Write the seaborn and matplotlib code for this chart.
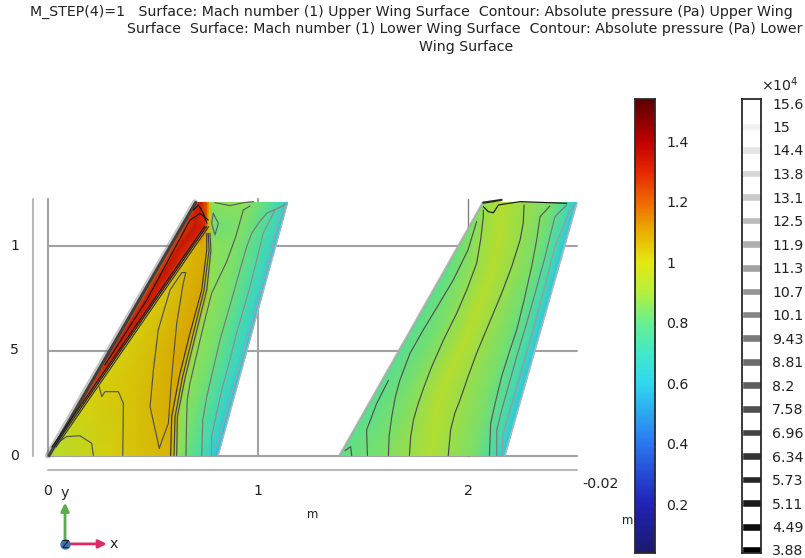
import numpy as np
import matplotlib
matplotlib.use('Agg')
import matplotlib.pyplot as plt
from matplotlib.colors import LinearSegmentedColormap, Normalize, to_rgb
import seaborn as sns

# Mach number colour bar
mach_min = 0.038
mach_max = 1.539
mach_ticks = [1.4, 1.2, 1.0, 0.8, 0.6, 0.4, 0.2]
mach_tick_labels = ['1.4', '1.2', '1', '0.8', '0.6', '0.4', '0.2']
mach_stops = [0.038, 0.2, 0.4, 0.6, 0.7, 0.8, 0.9, 1.0, 1.1, 1.2, 1.3, 1.4, 1.539]
mach_colors = ['#1a1a6e', '#2222b8', '#2a78f0', '#30d8f0', '#44e8c8', '#66f090', '#b4f040',
               '#e4e810', '#eab000', '#ee6a00', '#e62800', '#c00000', '#5c0000']

# pressure legend, in units of 10^4 Pa
pressure_levels = [15.6, 14.98, 14.37, 13.75, 13.13, 12.52, 11.9, 11.28, 10.66, 10.05, 9.43, 8.81, 8.2,
                   7.58, 6.96, 6.34, 5.73, 5.11, 4.49, 3.88]
pressure_labels = ['15.6', '15', '14.4', '13.8', '13.1', '12.5', '11.9', '11.3', '10.7', '10.1',
                   '9.43', '8.81', '8.2', '7.58', '6.96', '6.34', '5.73', '5.11', '4.49', '3.88']

# upper wing surface: span stations, x of each chord station, Mach there
upper_span = [0, 0.25, 0.5, 0.75, 1.0, 1.09, 1.205]
upper_x = [
    [0.0, 0.002, 0.004, 0.006, 0.30, 0.585, 0.62, 0.68, 0.74, 0.78, 0.81],
    [0.146, 0.155, 0.168, 0.178, 0.40, 0.600, 0.640, 0.72, 0.79, 0.85, 0.879],
    [0.292, 0.310, 0.342, 0.352, 0.50, 0.655, 0.700, 0.79, 0.86, 0.92, 0.9475],
    [0.4375, 0.47, 0.515, 0.525, 0.62, 0.725, 0.770, 0.86, 0.93, 0.99, 1.016],
    [0.583, 0.63, 0.688, 0.698, 0.725, 0.750, 0.785, 0.90, 1.0, 1.06, 1.085],
    [0.636, 0.70, 0.750, 0.758, 0.762, 0.766, 0.79, 0.93, 1.03, 1.09, 1.11],
    [0.70, 0.73, 0.755, 0.76, 0.765, 0.77, 0.78, 0.94, 1.05, 1.12, 1.14],
]
upper_mach = [
    [0.92, 0.93, 0.93, 0.93, 1.02, 1.07, 0.87, 0.80, 0.72, 0.65, 0.58],
    [1.15, 1.25, 1.22, 1.01, 1.04, 1.09, 0.87, 0.82, 0.74, 0.66, 0.58],
    [1.2, 1.32, 1.30, 1.02, 1.05, 1.10, 0.87, 0.83, 0.75, 0.68, 0.58],
    [1.2, 1.34, 1.30, 1.03, 1.06, 1.10, 0.87, 0.83, 0.75, 0.68, 0.58],
    [1.22, 1.34, 1.28, 1.06, 1.08, 1.08, 0.86, 0.84, 0.76, 0.68, 0.58],
    [1.25, 1.34, 1.30, 1.18, 1.15, 1.05, 0.82, 0.84, 0.76, 0.68, 0.58],
    [1.3, 1.32, 1.2, 1.15, 1.12, 1.05, 0.86, 0.86, 0.78, 0.68, 0.58],
]

# lower wing surface
lower_span = [0, 0.3, 0.6, 0.9, 1.205]
lower_x = [
    [1.39, 1.60, 1.82, 2.02, 2.13, 2.176],
    [1.561, 1.72, 1.87, 2.09, 2.21, 2.2615],
    [1.731, 1.87, 2.01, 2.20, 2.30, 2.347],
    [1.902, 2.01, 2.12, 2.31, 2.39, 2.4325],
    [2.073, 2.12, 2.168, 2.40, 2.48, 2.518],
]
lower_mach = [
    [0.80, 0.84, 0.92, 0.84, 0.72, 0.60],
    [0.78, 0.84, 0.93, 0.84, 0.72, 0.60],
    [0.78, 0.84, 0.93, 0.83, 0.72, 0.60],
    [0.80, 0.86, 0.93, 0.83, 0.72, 0.60],
    [0.86, 0.90, 0.93, 0.83, 0.72, 0.60],
]

# pressure contours on the upper surface (x, y in m)
shock_a = [(.584, 0), (.589, .185), (.625, .375), (.676, .582), (.732, .788), (.756, .979), (.756, 1.058)]
shock_b = [(.600, 0), (.605, .185), (.641, .375), (.692, .582), (.743, .788), (.767, .979), (.763, 1.058)]
shock_c = [(.613, 0), (.616, .185), (.654, .375), (.705, .582), (.756, .788), (.776, .979), (.771, 1.058)]
aft_d = [(.657, 0), (.660, .169), (.663, .264), (.676, .344), (.724, .550), (.751, .661), (.779, .772), (.851, .923),
         (.894, 1.042), (.930, 1.169), (.962, 1.188)]
aft_e = [(.732, 0), (.737, .169), (.756, .280), (.819, .550), (.851, .661), (.883, .772), (.914, .883), (.946, .994),
         (.970, 1.058), (1.002, 1.106), (1.041, 1.153), (1.137, 1.198)]
aft_f = [(.779, 0), (.779, .090), (.827, .312), (.862, .439), (.898, .582), (.930, .693), (.962, .804), (.994, .931),
         (1.025, 1.058), (1.081, 1.169), (1.137, 1.198)]
aft_g = [(.803, .042), (.851, .209), (.898, .375), (.954, .574), (1.010, .772), (1.057, .947), (1.097, 1.121), (1.137, 1.198)]
yellow_loop = [(.530, .034), (.486, .233), (.502, .407), (.525, .598), (.581, .788), (.637, .871), (.656, .871),
               (.644, .820), (.613, .629), (.589, .375), (.573, .153), (.541, .066), (.530, .034)]
root_one = [(.244, .328), (.256, .280), (.271, .304), (.335, .304), (.359, .248), (.356, 0)]
root_two = [(.041, .058), (.089, .090), (.152, .094), (.208, .058), (.216, 0)]
red_band = [(.271, .431), (.470, .740), (.676, 1.121), (.724, 1.153), (.763, 1.121)]
edge_a = [(.018, .04), (.399, .59), (.745, 1.09)]
edge_b = [(.028, .04), (.409, .59), (.755, 1.09)]
edge_c = [(.038, .04), (.419, .59), (.765, 1.09)]
tip_upper = [(.795, 1.204), (.867, 1.190), (.930, 1.204), (.978, 1.209)]
tip_ellipse = [(.787, 1.153), (.811, 1.106), (.795, 1.050), (.779, 1.106), (.787, 1.153)]
tip_loop = [(.692, 1.169), (.716, 1.193), (.740, 1.153), (.756, 1.106)]

# pressure contours on the lower surface
low_spike = [(1.521, 0), (1.517, .121), (1.565, .247), (1.621, .358)]
low_root = [(1.446, 0), (1.441, .042), (1.414, .023)]
low_b = [(1.621, 0), (1.624, .090), (1.637, .185), (1.654, .280), (1.676, .360), (1.724, .487), (1.787, .598),
         (1.859, .717), (1.930, .836), (2.0, .979), (2.041, 1.114)]
low_c = [(1.721, 0), (1.727, .090), (1.740, .169), (1.763, .248), (1.791, .328), (1.827, .423), (1.883, .550),
         (1.946, .677), (1.994, .788), (2.041, .915), (2.060, 1.026), (2.073, 1.137), (2.073, 1.169)]
low_d = [(1.906, 0), (1.917, .121), (1.937, .201), (1.962, .264), (2.0, .375), (2.041, .487), (2.097, .621),
         (2.160, .772), (2.208, .899), (2.248, 1.026), (2.263, 1.106), (2.267, 1.193)]
low_e = [(2.102, 0), (2.108, .153), (2.129, .247), (2.160, .375), (2.195, .487), (2.232, .598), (2.267, .740),
         (2.303, .899), (2.327, 1.026), (2.343, 1.137), (2.390, 1.188)]
low_f = [(2.137, 0), (2.137, .121), (2.160, .215), (2.192, .328), (2.232, .471), (2.279, .629), (2.324, .788),
         (2.367, .947), (2.394, 1.058), (2.414, 1.137), (2.470, 1.193)]
low_g = [(2.160, 0), (2.168, .106), (2.198, .209), (2.232, .328), (2.281, .494), (2.327, .661), (2.374, .836),
         (2.414, .994), (2.451, 1.082), (2.478, 1.153), (2.510, 1.198)]
low_tip = [(2.073, 1.185), (2.097, 1.161), (2.121, 1.156), (2.145, 1.193), (2.248, 1.209), (2.470, 1.201)]

# (pressure level, contour) pairs: the level sets the line's grey
contours = [
    (6.4, shock_a), (6.8, shock_b), (7.2, shock_c), (8.2, aft_d), (9.5, aft_e), (10.4, aft_f), (11.4, aft_g),
    (7.6, yellow_loop), (7.8, root_one), (7.8, root_two), (5.0, red_band), (5.2, edge_a), (5.6, edge_b), (6.4, edge_c),
    (8.2, tip_upper), (8.4, tip_ellipse), (4.4, tip_loop),
    (7.6, low_spike), (7.6, low_root), (7.6, low_b), (7.4, low_c), (7.2, low_d), (8.0, low_e), (9.4, low_f), (11.0, low_g),
    (5.0, low_tip),
]

title_lines = ['M_STEP(4)=1   Surface: Mach number (1) Upper Wing Surface  Contour: Absolute pressure (Pa) Upper Wing',
               'Surface  Surface: Mach number (1) Lower Wing Surface  Contour: Absolute pressure (Pa) Lower',
               'Wing Surface']

sns.set_theme(style='white')
plt.rcParams['font.family'] = ['DejaVu Sans']
text_color = '#222222'
text_size = 10.2

fig = plt.figure(figsize=(8.05, 5.58), dpi=100)
ax = fig.add_axes([0, 0, 1, 1])
ax.set_xlim(-48 / 210, 757 / 210)
ax.set_ylim(-102.5 / 210, 455.5 / 210)
ax.set_axis_off()

stops = [(v - mach_min) / (mach_max - mach_min) for v in mach_stops]
mach_cmap = LinearSegmentedColormap.from_list('mach', list(zip(stops, mach_colors)), N=512)
# the wing surfaces are lit, so they come out a bit duller than the colour bar
wing_colors = [tuple(c * 0.93 for c in to_rgb(col)) for col in mach_colors]
wing_cmap = LinearSegmentedColormap.from_list('wing', list(zip(stops, wing_colors)), N=512)
mach_norm = Normalize(mach_min, mach_max)
gray_norm = Normalize(3.88, 15.6)

# axis box behind the wings
grid_color = '#a2a2a2'
for y in [0, 0.5, 1]:
    ax.plot([0, 2.52], [y, y], color=grid_color, lw=1.5, zorder=1)
for x in [0, 1]:
    ax.plot([x, x], [0, 1.22], color=grid_color, lw=1.5, zorder=1)
ax.plot([2, 2], [0, 1.22], color='#808080', lw=1, zorder=1)
ax.plot([0, 2.52], [-0.07, -0.07], color='#b8b8b8', lw=1.5, zorder=1)
ax.plot([-0.07, -0.07], [0, 1.22], color='#b8b8b8', lw=1.5, zorder=1)

# wing surfaces
for span, xs, mach in [(upper_span, upper_x, upper_mach), (lower_span, lower_x, lower_mach)]:
    xs = np.array(xs)
    ys = np.tile(np.array(span)[:, None], (1, xs.shape[1]))
    ax.pcolormesh(xs, ys, np.array(mach), shading='gouraud', cmap=wing_cmap, norm=mach_norm, zorder=2)

# dark leading and trailing edges where the contours crowd together
sns.lineplot(x=[0.0, 0.70], y=[0.0, 1.205], color='#707070', lw=4.5, alpha=0.4, ax=ax, zorder=3)
sns.lineplot(x=[0.005, 0.703], y=[0.0, 1.205], color='#3a3a3a', lw=2.2, alpha=0.9, ax=ax, zorder=3)
sns.lineplot(x=[1.388, 2.071], y=[0.0, 1.205], color='#a8a8a8', lw=1.6, alpha=0.8, ax=ax, zorder=3)
sns.lineplot(x=[0.81, 1.14], y=[0.0, 1.2], color='#a8b8c0', lw=1.0, ax=ax, zorder=3)
sns.lineplot(x=[2.176, 2.518], y=[0.0, 1.2], color='#a8b8c0', lw=1.2, ax=ax, zorder=3)
sns.lineplot(x=[2.073, 2.160], y=[1.204, 1.217], color='#2a2a2a', lw=1.6, ax=ax, zorder=4)

for level, line in contours:
    pts = np.array(line)
    sns.lineplot(x=pts[:, 0], y=pts[:, 1], sort=False, estimator=None, ax=ax, lw=0.85,
                 color=plt.cm.gray(gray_norm(level)), zorder=4)

# tick labels of the 3D box
for x, label in zip([-0.003, 1, 2], ['0', '1', '2']):
    ax.text(x, -0.17, label, ha='center', va='center', fontsize=text_size, color=text_color)
for y, label in zip([0, 0.5, 1], ['0', '5', '1']):
    ax.text(-0.16, y, label, ha='center', va='center', fontsize=text_size, color=text_color)
ax.text(2.63, -0.137, '-0.02', ha='center', va='center', fontsize=text_size, color=text_color)
ax.text(1.26, -0.28, 'm', ha='center', va='center', fontsize=8.4, color=text_color)
ax.text(2.76, -0.31, 'm', ha='center', va='center', fontsize=8.4, color=text_color)

# coordinate triad
origin = (0.081, -0.421)
ax.annotate('', xy=(0.081, -0.225), xytext=origin, zorder=5,
            arrowprops=dict(arrowstyle='-|>', color='#5cab4e', lw=2, mutation_scale=12, shrinkA=0, shrinkB=0))
ax.annotate('', xy=(0.28, -0.421), xytext=origin, zorder=5,
            arrowprops=dict(arrowstyle='-|>', color='#dc2a64', lw=2, mutation_scale=12, shrinkA=0, shrinkB=0))
ax.scatter([origin[0]], [origin[1]], s=42, color='#3b75b8', zorder=6)
ax.text(0.081, -0.421, 'z', ha='center', va='center', fontsize=text_size, color=text_color, zorder=7)
ax.text(0.081, -0.18, 'y', ha='center', va='center', fontsize=text_size, color=text_color)
ax.text(0.315, -0.421, 'x', ha='center', va='center', fontsize=text_size, color=text_color)

# the wrapped title lines are not centred on one axis in the original
for line, cx, cy in zip(title_lines, [411, 465, 466], [11.5, 29.5, 47.5]):
    fig.text(cx / 805, 1 - cy / 558, line, ha='center', va='center', fontsize=text_size, color=text_color)

# Mach colour bar
cax = fig.add_axes([635 / 805, 5 / 558, 20 / 805, 454 / 558])
gradient = np.linspace(mach_max, mach_min, 256)[:, None]
sns.heatmap(gradient, cmap=mach_cmap, norm=mach_norm, cbar=False, xticklabels=False, ax=cax)
cax.set_yticks([(mach_max - v) / (mach_max - mach_min) * 256 for v in mach_ticks])
cax.set_yticklabels(mach_tick_labels, rotation=0, color=text_color)
cax.tick_params(axis='y', direction='in', left=True, right=True, labelleft=False, labelright=True,
                length=3, width=1, labelsize=text_size, pad=8, color='#222222')

# contour legend
lax = fig.add_axes([741.5 / 805, 5 / 558, 19.5 / 805, 454 / 558])
lax.barh(pressure_levels, 1, height=0.2, color=[plt.cm.gray(gray_norm(v)) for v in pressure_levels])
lax.set_xlim(0, 1)
lax.set_ylim(3.80, 15.705)
lax.set_xticks([])
lax.set_yticks(pressure_levels)
lax.set_yticklabels(pressure_labels, color=text_color)
lax.tick_params(axis='y', direction='in', left=True, right=True, labelleft=False, labelright=True,
                length=3, width=1, labelsize=text_size, pad=8, color='#222222')

for a in [cax, lax]:
    for spine in a.spines.values():
        spine.set_visible(True)
        spine.set_color('#2a2a2a')
        spine.set_linewidth(1.3)

fig.text(761 / 805, 1 - 85 / 558, r'$\times$10$^4$', ha='left', va='center', fontsize=text_size, color=text_color,
         math_fontfamily='dejavusans')

fig.savefig('out.png', dpi=100, facecolor='white')
